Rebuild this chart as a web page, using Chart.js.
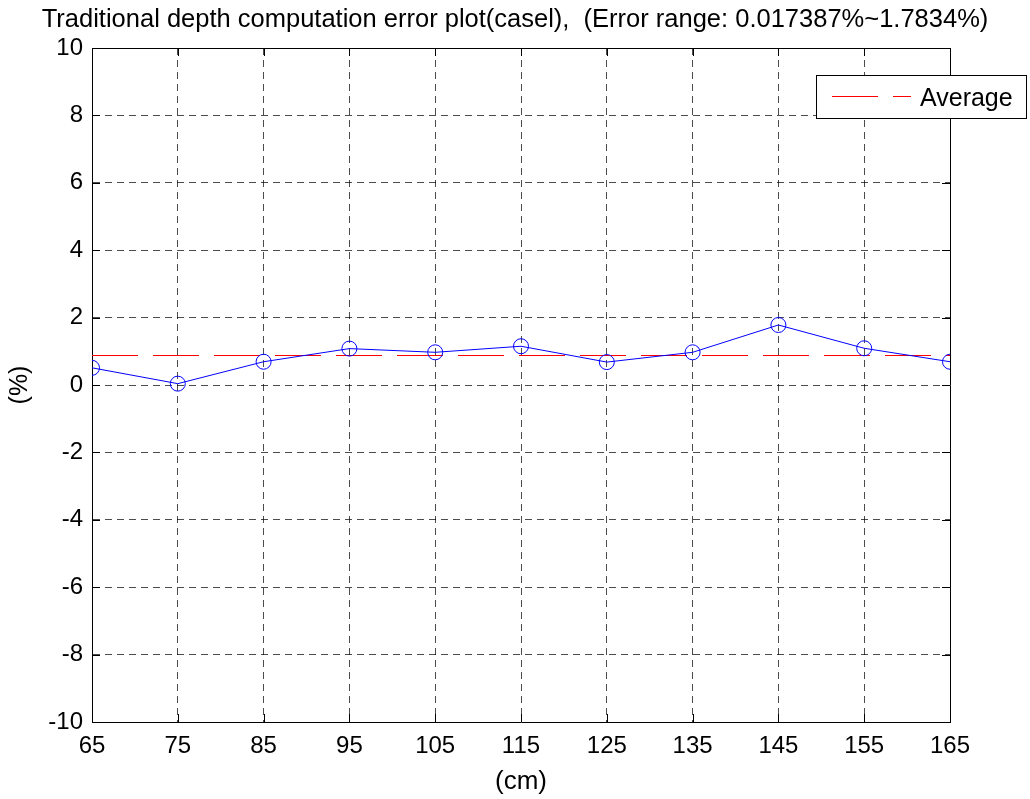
<!DOCTYPE html>
<html>
<head>
<meta charset="utf-8">
<script src="https://cdn.jsdelivr.net/npm/chart.js@4/dist/chart.umd.min.js"></script>
<style>
  html, body { margin: 0; padding: 0; background: #fff; }
  #wrap { width: 1030px; height: 799px; }
</style>
</head>
<body>
<div id="wrap"><canvas id="c" width="1030" height="799"></canvas></div>
<script>
const titleText = 'Traditional depth computation error plot(casel),  (Error range: 0.017387%~1.7834%)';
const distances = [65, 75, 85, 95, 105, 115, 125, 135, 145, 155, 165];
const errorPct = [0.51, 0.04, 0.69, 1.08, 0.97, 1.15, 0.68, 0.97, 1.78, 1.09, 0.69];
const averagePct = [0.875, 0.875];
const averageX = [65, 165];
const xTicks = [65, 75, 85, 95, 105, 115, 125, 135, 145, 155, 165];
const yTicks = [-10, -8, -6, -4, -2, 0, 2, 4, 6, 8, 10];
const legendLabel = 'Average';

const FONT = 'Liberation Sans, Arial, Helvetica, sans-serif';

const gridColor = (ctx) => {
  const n = ctx.chart ? ctx.scale.ticks.length : 0;
  return (ctx.index === 0 || ctx.index === n - 1) ? 'rgba(0,0,0,0)' : 'rgba(0,0,0,0.7)';
};

const insideTicks = {
  id: 'insideTicks',
  afterDraw(chart) {
    const {ctx, chartArea: a, scales} = chart;
    const L = 8;
    ctx.save();
    ctx.strokeStyle = '#000';
    ctx.lineWidth = 1;
    ctx.beginPath();
    xTicks.forEach(v => {
      const x = Math.round(scales.x.getPixelForValue(v)) + 0.5;
      ctx.moveTo(x, a.bottom); ctx.lineTo(x, a.bottom - L);
      ctx.moveTo(x, a.top); ctx.lineTo(x, a.top + L);
    });
    yTicks.forEach(v => {
      const y = Math.round(scales.y.getPixelForValue(v)) + 0.5;
      ctx.moveTo(a.left, y); ctx.lineTo(a.left + L, y);
      ctx.moveTo(a.right, y); ctx.lineTo(a.right - L, y);
    });
    ctx.stroke();
    ctx.restore();
  }
};

const boxLegend = {
  id: 'boxLegend',
  afterDraw(chart) {
    const {ctx, chartArea: a} = chart;
    const ds = chart.data.datasets[1];
    const left = Math.round(a.right - 134), top = Math.round(a.top + 27), w = 210, h = 43;
    ctx.save();
    ctx.fillStyle = '#fff';
    ctx.fillRect(left + 0.5, top + 0.5, w, h);
    ctx.strokeStyle = '#000';
    ctx.lineWidth = 1;
    ctx.strokeRect(left + 0.5, top + 0.5, w, h);
    const cy = top + 21.5;
    ctx.strokeStyle = ds.borderColor;
    ctx.setLineDash(ds.borderDash);
    ctx.beginPath();
    ctx.moveTo(left + 16, cy);
    ctx.lineTo(left + 95, cy);
    ctx.stroke();
    ctx.setLineDash([]);
    ctx.fillStyle = '#000';
    ctx.font = '25px ' + FONT;
    ctx.textBaseline = 'middle';
    ctx.textAlign = 'left';
    ctx.fillText(ds.label, left + 104, cy + 3);
    ctx.restore();
  }
};

new Chart(document.getElementById('c'), {
  type: 'line',
  data: {
    datasets: [
      {
        label: 'error',
        data: distances.map((x, i) => ({x: x, y: errorPct[i]})),
        borderColor: '#0000ff',
        borderWidth: 1,
        pointRadius: 7.5,
        pointHoverRadius: 7.5,
        pointBorderColor: '#0000ff',
        pointBackgroundColor: 'rgba(0,0,0,0)',
        pointBorderWidth: 1,
        tension: 0,
        fill: false
      },
      {
        label: legendLabel,
        data: averageX.map((x, i) => ({x: x, y: averagePct[i]})),
        borderColor: '#ff0000',
        borderWidth: 1,
        borderDash: [46, 15],
        pointRadius: 0,
        tension: 0,
        fill: false
      }
    ]
  },
  options: {
    responsive: false,
    animation: false,
    events: [],
    layout: { padding: 0 },
    plugins: {
      legend: { display: false },
      tooltip: { enabled: false },
      title: {
        display: true,
        text: titleText,
        color: '#000',
        font: { family: FONT, size: 25.5, weight: 'normal', lineHeight: 1.2 },
        padding: { top: 5, bottom: 12.4 }
      }
    },
    scales: {
      x: {
        type: 'linear', position: 'bottom', min: 65, max: 165,
        afterBuildTicks: (s) => { s.ticks = xTicks.map(v => ({value: v})); },
        afterFit: (s) => { s.height = 77; },
        ticks: { color: '#000', font: { family: FONT, size: 24 }, padding: 10, maxRotation: 0, autoSkip: false },
        grid: { color: gridColor, lineWidth: 1, drawTicks: false },
        border: { display: true, color: '#000', width: 1, dash: [7, 5] },
        title: { display: true, text: '(cm)', color: '#000', font: { family: FONT, size: 26, lineHeight: 1.2 }, padding: { top: 0, bottom: 2 } }
      },
      y: {
        type: 'linear', position: 'left', min: -10, max: 10,
        afterBuildTicks: (s) => { s.ticks = yTicks.map(v => ({value: v})); },
        afterFit: (s) => { s.width = 92; },
        ticks: { color: '#000', font: { family: FONT, size: 24 }, padding: 9, autoSkip: false },
        grid: { color: gridColor, lineWidth: 1, drawTicks: false },
        border: { display: true, color: '#000', width: 1, dash: [7, 5] },
        title: { display: true, text: '(%)', color: '#000', font: { family: FONT, size: 25, lineHeight: 1.2 }, padding: { top: 5, bottom: 0 } }
      },
      x2: {
        type: 'linear', position: 'top', min: 65, max: 165,
        afterFit: (s) => { s.height = 0; },
        ticks: { display: false },
        grid: { display: false, drawOnChartArea: false, drawTicks: false },
        border: { display: true, color: '#000', width: 1 }
      },
      y2: {
        type: 'linear', position: 'right', min: -10, max: 10,
        afterFit: (s) => { s.width = 80; },
        ticks: { display: false },
        grid: { display: false, drawOnChartArea: false, drawTicks: false },
        border: { display: true, color: '#000', width: 1 }
      }
    }
  },
  plugins: [insideTicks, boxLegend]
});
</script>
</body>
</html>
